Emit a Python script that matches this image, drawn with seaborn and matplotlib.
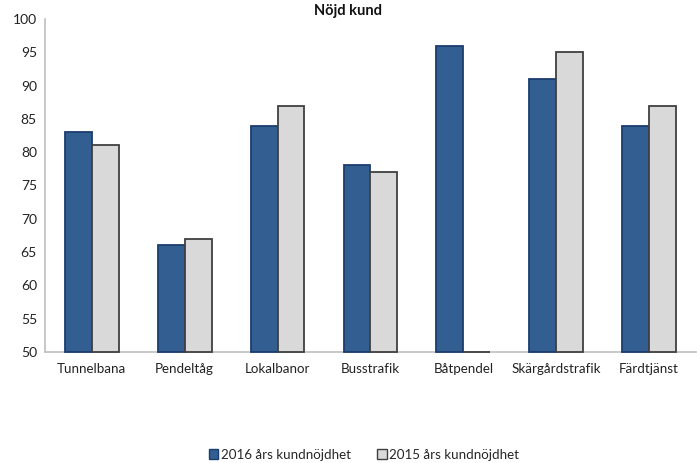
import matplotlib
matplotlib.use("Agg")
import matplotlib.pyplot as plt
import seaborn as sns
import pandas as pd
from matplotlib.patches import Patch

categories = ["Tunnelbana", "Pendeltåg", "Lokalbanor", "Busstrafik", "Båtpendel", "Skärgårdstrafik", "Färdtjänst"]
series_2016 = [83, 66, 84, 78, 96, 91, 84]
series_2015 = [81, 67, 87, 77, 50, 95, 87]
label_2016 = "2016 års kundnöjdhet"
label_2015 = "2015 års kundnöjdhet"
title = "Nöjd kund"
yticks = [50, 55, 60, 65, 70, 75, 80, 85, 90, 95, 100]

df = pd.DataFrame({
    "cat": categories * 2,
    "val": series_2016 + series_2015,
    "series": [label_2016] * len(categories) + [label_2015] * len(categories),
})

sns.set_style("white")
plt.rcParams["font.family"] = ["Lato", "DejaVu Sans"]

fig = plt.figure(figsize=(6.97, 4.63), dpi=100)
ax = fig.add_axes([0.065, 0.24, 0.933, 0.719])

fill = {label_2016: "#335E91", label_2015: "#D9D9D9"}
edge = {label_2016: "#1B3D6E", label_2015: "#404040"}

sns.barplot(data=df, x="cat", y="val", hue="series", order=categories,
            hue_order=[label_2016, label_2015], palette=fill, width=0.58,
            ax=ax, legend=False, saturation=1)

ymin = yticks[0]
n = len(categories)
for i, patch in enumerate(ax.patches[:2 * n]):
    s = label_2016 if i < n else label_2015
    patch.set_edgecolor(edge[s])
    patch.set_linewidth(1.3)
    # bars grow from the axis minimum, as in the original chart
    h = patch.get_height()
    patch.set_y(ymin)
    patch.set_height(h - ymin)
    patch.set_clip_on(False)
    patch.set_zorder(3)

ax.set_ylim(ymin, 100)
ax.set_yticks(yticks)
ax.set_yticklabels([str(t) for t in yticks], fontsize=10, color="#222222")
ax.tick_params(axis="x", labelsize=9.6, colors="#222222", length=0, pad=8)
ax.tick_params(axis="y", length=0, pad=6)
ax.set_xlim(-0.5, n - 0.5)
ax.set_xlabel("")
ax.set_ylabel("")
for s in ["top", "right"]:
    ax.spines[s].set_visible(False)
ax.spines["left"].set_color("#BFBFBF")
ax.spines["bottom"].set_color("#BFBFBF")
ax.spines["left"].set_linewidth(1.2)
ax.spines["bottom"].set_linewidth(1.2)

fig.text(0.5, 0.962, title, ha="center", va="bottom", fontsize=10.5, fontweight="bold", color="#111111")

handles = [Patch(facecolor=fill[label_2016], edgecolor=edge[label_2016], label=label_2016),
           Patch(facecolor=fill[label_2015], edgecolor=edge[label_2015], label=label_2015)]
fig.legend(handles=handles, loc="center", bbox_to_anchor=(0.522, 0.018), ncol=2, frameon=False,
           fontsize=9.6, handlelength=0.7, handleheight=0.7, handletextpad=0.2, columnspacing=2.0)

fig.savefig("out.png", dpi=100)
